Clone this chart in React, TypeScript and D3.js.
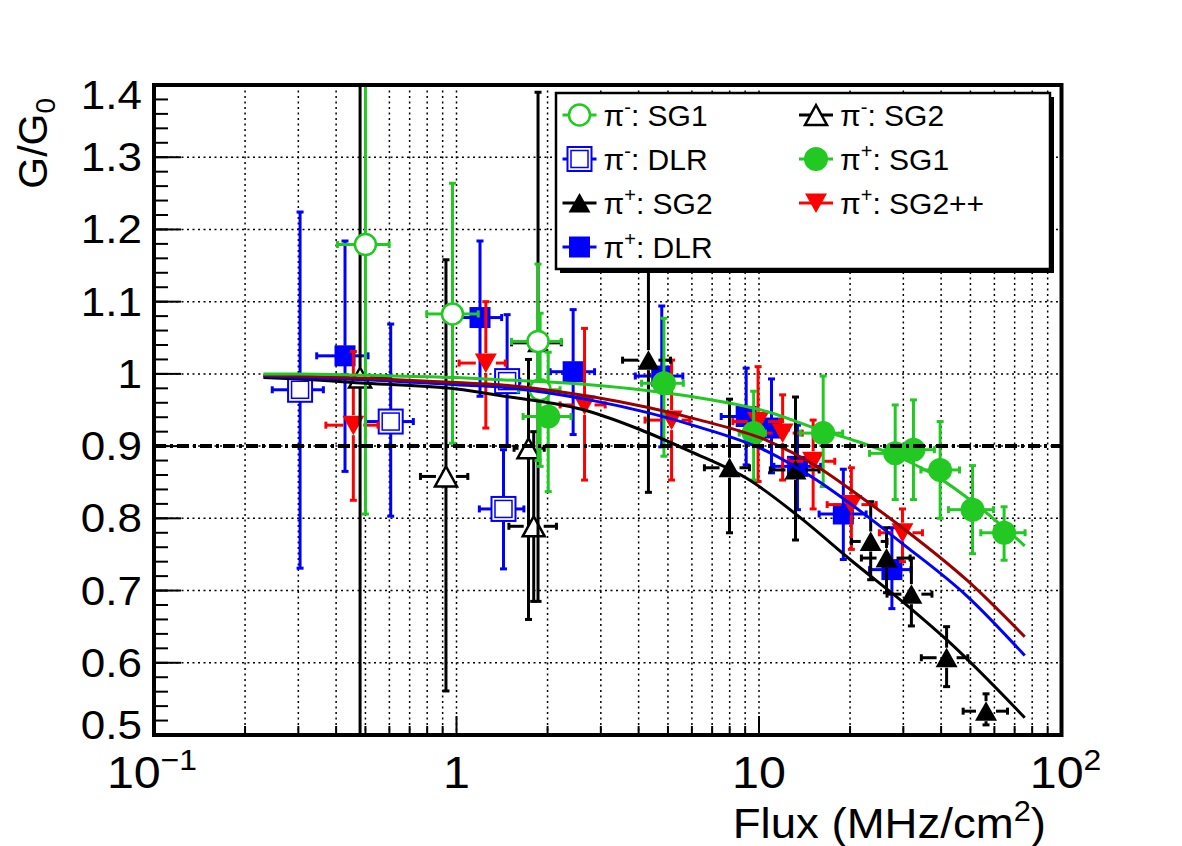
import React from "react";
import * as d3 from "d3";

// points: [flux, G/G0, fluxLow, fluxHigh, gLow, gHigh]
const piMinusSG1 = [
  [0.5, 1.179, 0.404, 0.599, 0.806, 1.5],
  [0.97, 1.083, 0.797, 1.18, 0.904, 1.264],
  [1.86, 1.045, 1.52, 2.22, 0.88, 1.152],
  [1.89, 0.978, 1.6, 2.2, 0.872, 1.084],
];
const piMinusDLR = [
  [0.304, 0.978, 0.246, 0.363, 0.731, 1.224],
  [0.606, 0.934, 0.5, 0.72, 0.803, 1.069],
  [1.43, 0.813, 1.19, 1.67, 0.73, 0.895],
  [1.47, 0.99, 1.36, 1.62, 0.9, 1.082],
];
const piPlusSG2 = [
  [1.86, 1.043, 1.52, 2.22, 0.685, 1.39],
  [4.31, 1.019, 3.54, 5.1, 0.836, 1.2],
  [7.99, 0.87, 6.6, 9.3, 0.78, 0.965],
  [13.2, 0.867, 10.9, 15.8, 0.77, 0.968],
  [23.4, 0.768, 20.2, 26.5, 0.715, 0.823],
  [26.4, 0.745, 21.8, 31.6, 0.697, 0.787],
  [31.9, 0.695, 26.5, 37.3, 0.651, 0.745],
  [41.7, 0.607, 34.4, 49.0, 0.567, 0.65],
  [56.3, 0.533, 47.3, 66.3, 0.514, 0.557],
];
const piMinusSG2 = [
  [0.48, 0.995, 0.4, 0.59, 0.3, 1.6],
  [0.923, 0.858, 0.76, 1.09, 0.561, 1.158],
  [1.73, 0.897, 1.55, 1.95, 0.66, 1.02],
  [1.8, 0.789, 1.49, 2.14, 0.685, 0.92],
];
const piPlusSG1 = [
  [2.01, 0.941, 1.66, 2.39, 0.837, 1.03],
  [4.85, 0.987, 4.09, 5.62, 0.886, 1.077],
  [9.6, 0.918, 8.6, 10.5, 0.853, 0.976],
  [16.3, 0.918, 13.7, 18.9, 0.844, 0.997],
  [28.2, 0.89, 23.2, 31.6, 0.826, 0.957],
  [32.4, 0.895, 27.0, 38.0, 0.826, 0.964],
  [39.7, 0.867, 34.3, 46.0, 0.8, 0.934],
  [50.8, 0.812, 42.3, 59.6, 0.751, 0.873],
  [64.6, 0.78, 54.1, 75.8, 0.742, 0.816],
];
const piPlusSG2pp = [
  [0.456, 0.929, 0.37, 0.55, 0.825, 1.031],
  [1.25, 1.015, 1.02, 1.45, 0.925, 1.1],
  [2.65, 0.957, 2.2, 3.1, 0.853, 1.063],
  [5.14, 0.936, 4.2, 5.9, 0.853, 1.019],
  [9.93, 0.934, 8.2, 11.7, 0.851, 1.01],
  [11.97, 0.918, 10.1, 13.9, 0.853, 0.971],
  [15.1, 0.879, 12.5, 17.8, 0.813, 0.936],
  [20.2, 0.819, 16.8, 24.4, 0.757, 0.87],
  [29.8, 0.78, 25.0, 34.7, 0.74, 0.813],
];
const piPlusDLR = [
  [0.428, 1.025, 0.345, 0.51, 0.865, 1.184],
  [1.196, 1.078, 0.98, 1.41, 0.969, 1.184],
  [2.43, 1.003, 2.04, 2.86, 0.916, 1.089],
  [4.77, 0.997, 3.9, 5.6, 0.899, 1.094],
  [9.07, 0.941, 7.5, 10.2, 0.874, 1.008],
  [11.0, 0.925, 9.3, 12.5, 0.863, 0.993],
  [13.4, 0.872, 11.2, 16.0, 0.812, 0.929],
  [19.0, 0.806, 15.8, 22.6, 0.743, 0.868],
  [27.5, 0.729, 23.2, 31.8, 0.675, 0.787],
];

// fit curves: [flux, G/G0]
const fitSG1 = [
  [0.23, 1.0], [0.3, 1.0], [0.5, 0.998], [1, 0.995], [1.4, 0.992], [2.75, 0.985],
  [5.9, 0.969], [10.6, 0.948], [16.3, 0.921], [21.3, 0.906], [28.2, 0.887],
  [39.7, 0.855], [50.8, 0.823], [75.6, 0.762],
];
const fitSG2pp = [
  [0.23, 0.998], [0.3, 0.997], [0.5, 0.994], [1, 0.988], [1.39, 0.985], [2.75, 0.969],
  [6.38, 0.936], [10.6, 0.908], [15.5, 0.872], [21.3, 0.832], [30, 0.786],
  [48.8, 0.714], [75.6, 0.636],
];
const fitDLR = [
  [0.23, 0.997], [0.3, 0.995], [0.5, 0.992], [1, 0.985], [1.39, 0.982], [2.75, 0.964],
  [6.38, 0.926], [10.6, 0.893], [15.5, 0.853], [21.3, 0.812], [30, 0.764],
  [48.8, 0.692], [75.6, 0.61],
];
const fitSG2 = [
  [0.23, 0.995], [0.3, 0.993], [0.5, 0.987], [1, 0.979], [1.39, 0.97], [2.75, 0.948],
  [4.04, 0.923], [5.9, 0.893], [9.3, 0.853], [13.5, 0.803], [20, 0.743],
  [32.4, 0.672], [41.7, 0.632], [75.6, 0.524],
];

const yTicks = [0.5, 0.6, 0.7, 0.8, 0.9, 1, 1.1, 1.2, 1.3, 1.4];
const yTickLabels = ["0.5", "0.6", "0.7", "0.8", "0.9", "1", "1.1", "1.2", "1.3", "1.4"];
const thresholdLine = 0.9;

const GREEN = "#22c922";
const BLUE = "#0000ff";
const RED = "#ff0000";
const DARKRED = "#990000";
const BLACK = "#000000";

const W = 1182;
const H = 846;
const L = 154, R = 1061.5, T = 85, B = 735;

const x = d3.scaleLog().domain([0.1, 100]).range([L, R]);
const y = d3.scaleLinear().domain([0.5, 1.4]).range([B, T]);

function Marker({ kind, cx, cy, color }) {
  if (kind === "openCircle")
    return <circle cx={cx} cy={cy} r={10.5} fill="white" stroke={color} strokeWidth={2.5} />;
  if (kind === "fullCircle")
    return <circle cx={cx} cy={cy} r={12} fill={color} />;
  if (kind === "fullSquare")
    return <rect x={cx - 10.5} y={cy - 10.5} width={21} height={21} fill={color} />;
  if (kind === "openSquare")
    return (
      <g fill="white" stroke={color}>
        <rect x={cx - 12} y={cy - 12} width={24} height={24} strokeWidth={2} />
        <rect x={cx - 8.5} y={cy - 8.5} width={17} height={17} strokeWidth={1.5} />
      </g>
    );
  if (kind === "fullTriUp")
    return <path d={`M${cx - 11},${cy + 9.5}L${cx + 11},${cy + 9.5}L${cx},${cy - 10}Z`} fill={color} />;
  if (kind === "openTriUp")
    return (
      <path d={`M${cx - 11},${cy + 10}L${cx + 11},${cy + 10}L${cx},${cy - 10}Z`}
        fill="white" stroke={color} strokeWidth={2.5} strokeLinejoin="miter" />
    );
  if (kind === "fullTriDown")
    return <path d={`M${cx - 11},${cy - 9.5}L${cx + 11},${cy - 9.5}L${cx},${cy + 10}Z`} fill={color} />;
  return null;
}

function ErrorGraph({ data, kind, color }) {
  const gap = 10;
  const cap = 3.5;
  return (
    <g stroke={color} strokeWidth={3} fill="none">
      {data.map((d, i) => {
        const cx = x(d[0]), cy = y(d[1]);
        const xl = x(d[2]), xh = x(d[3]);
        const yl = y(d[4]), yh = y(d[5]);
        return (
          <g key={i}>
            {xl < cx - gap && <line x1={xl} x2={cx - gap} y1={cy} y2={cy} />}
            {xh > cx + gap && <line x1={cx + gap} x2={xh} y1={cy} y2={cy} />}
            {yh < cy - gap && <line x1={cx} x2={cx} y1={cy - gap} y2={yh} />}
            {yl > cy + gap && <line x1={cx} x2={cx} y1={cy + gap} y2={yl} />}
            <line x1={xl} x2={xl} y1={cy - cap} y2={cy + cap} />
            <line x1={xh} x2={xh} y1={cy - cap} y2={cy + cap} />
            <line x1={cx - cap} x2={cx + cap} y1={yl} y2={yl} />
            <line x1={cx - cap} x2={cx + cap} y1={yh} y2={yh} />
          </g>
        );
      })}
      <g stroke="none">
        {data.map((d, i) => (
          <Marker key={i} kind={kind} cx={x(d[0])} cy={y(d[1])} color={color} />
        ))}
      </g>
    </g>
  );
}

const curve = d3
  .line()
  .x((d) => x(d[0]))
  .y((d) => y(d[1]))
  .curve(d3.curveMonotoneX);

const series = [
  { data: piMinusDLR, kind: "openSquare", color: BLUE },
  { data: piPlusDLR, kind: "fullSquare", color: BLUE },
  { data: piPlusSG2pp, kind: "fullTriDown", color: RED },
  { data: piMinusSG2, kind: "openTriUp", color: BLACK },
  { data: piPlusSG2, kind: "fullTriUp", color: BLACK },
  { data: piPlusSG1, kind: "fullCircle", color: GREEN },
  { data: piMinusSG1, kind: "openCircle", color: GREEN },
];

const fits = [
  { data: fitSG2, color: BLACK },
  { data: fitDLR, color: BLUE },
  { data: fitSG2pp, color: DARKRED },
  { data: fitSG1, color: GREEN },
];

const legendRows = [
  [{ sign: "-", name: "SG1", kind: "openCircle", color: GREEN }, { sign: "-", name: "SG2", kind: "openTriUp", color: BLACK }],
  [{ sign: "-", name: "DLR", kind: "openSquare", color: BLUE }, { sign: "+", name: "SG1", kind: "fullCircle", color: GREEN }],
  [{ sign: "+", name: "SG2", kind: "fullTriUp", color: BLACK }, { sign: "+", name: "SG2++", kind: "fullTriDown", color: RED }],
  [{ sign: "+", name: "DLR", kind: "fullSquare", color: BLUE }],
];

// text stretched a little sideways, like the original's font
function Stretch({ tx, ty, sx = 1.08, children, ...rest }) {
  return (
    <text transform={`translate(${tx},${ty}) scale(${sx},1)`} {...rest}>
      {children}
    </text>
  );
}

export default function App() {
  const minorX = [];
  for (const dec of [0.1, 1, 10]) for (let k = 2; k <= 9; k++) minorX.push(dec * k);
  const gridX = [...minorX, 1, 10].sort((a, b) => a - b);
  const minorY = d3.range(0.5, 1.4001, 0.02);
  const font = "'Liberation Sans', Arial, Helvetica, sans-serif";

  const legendCols = [579.5, 816];
  const legendRowY = [115, 159, 203, 247];

  // end labels sit inside the frame
  const labelShift = (i) => (i === 0 ? -10 : i === yTicks.length - 1 ? 10 : 0);

  return (
    <svg width={W} height={H} style={{ position: "absolute", left: 0, top: 0, background: "white" }} fontFamily={font}>
      <defs>
        <clipPath id="frame">
          <rect x={L} y={T} width={R - L} height={B - T} />
        </clipPath>
      </defs>
      <rect x={0} y={0} width={W} height={H} fill="white" />

      {/* grid */}
      <g stroke="black" strokeWidth={1.5} strokeDasharray="2 3.5">
        {gridX.map((v, i) => (
          <line key={"gx" + i} x1={x(v)} x2={x(v)} y1={T} y2={B} />
        ))}
        {yTicks.slice(1, -1).map((v, i) => (
          <line key={"gy" + i} x1={L} x2={R} y1={y(v)} y2={y(v)} />
        ))}
      </g>

      <g clipPath="url(#frame)">
        {series.map((s, i) => (
          <ErrorGraph key={i} data={s.data} kind={s.kind} color={s.color} />
        ))}
        {fits.map((f, i) => (
          <path key={i} d={curve(f.data)} fill="none" stroke={f.color} strokeWidth={3} />
        ))}
        <line x1={L} x2={R} y1={y(thresholdLine)} y2={y(thresholdLine)} stroke="black"
          strokeWidth={4} strokeDasharray="12 4 3 4" />
      </g>

      {/* ticks */}
      <g stroke="black" strokeWidth={2}>
        {yTicks.map((v, i) => (
          <line key={"ty" + i} x1={L} x2={L + 27} y1={y(v)} y2={y(v)} />
        ))}
        {minorY.map((v, i) => (
          <line key={"tmy" + i} x1={L} x2={L + 14} y1={y(v)} y2={y(v)} />
        ))}
        {[1, 10].map((v, i) => (
          <line key={"tx" + i} x1={x(v)} x2={x(v)} y1={B} y2={B - 19} />
        ))}
        {minorX.map((v, i) => (
          <line key={"tmx" + i} x1={x(v)} x2={x(v)} y1={B} y2={B - 9} />
        ))}
      </g>

      {/* frame */}
      <rect x={L} y={T} width={R - L} height={B - T} fill="none" stroke="black" strokeWidth={4} />

      {/* y tick labels */}
      <g fontSize={40} textAnchor="end">
        {yTicks.map((v, i) => (
          <Stretch key={i} tx={142} ty={y(v) + 14 + labelShift(i)} sx={1.1}>{yTickLabels[i]}</Stretch>
        ))}
      </g>

      {/* x tick labels */}
      <g fontSize={44} textAnchor="middle">
        <Stretch tx={x(0.1) - 2} ty={788} sx={1.1}>10<tspan fontSize={29} dy={-18}>−1</tspan></Stretch>
        <Stretch tx={x(1)} ty={788} sx={1.1}>1</Stretch>
        <Stretch tx={x(10)} ty={788} sx={1.1}>10</Stretch>
        <Stretch tx={x(100) + 4} ty={788} sx={1.1}>10<tspan fontSize={29} dy={-18}>2</tspan></Stretch>
      </g>

      {/* axis titles */}
      <Stretch tx={1046} ty={838} sx={1.06} fontSize={43} textAnchor="end">
        Flux (MHz/cm<tspan fontSize={29} dy={-17}>2</tspan><tspan dy={17}>)</tspan>
      </Stretch>
      <text transform="translate(47,98) rotate(-90)" fontSize={41} textAnchor="end">
        G/G<tspan fontSize={28} dy={8}>0</tspan>
      </text>

      {/* legend */}
      <rect x={560} y={97} width={494} height={176} fill="black" />
      <rect x={556} y={93} width={494} height={176} fill="white" stroke="black" strokeWidth={2.5} />
      {legendRows.map((row, ri) =>
        row.map((e, ci) => {
          const cx = legendCols[ci];
          const cy = legendRowY[ri];
          return (
            <g key={ri + "-" + ci}>
              <line x1={cx - 17} x2={cx + 17} y1={cy} y2={cy} stroke={e.color} strokeWidth={3} />
              <Marker kind={e.kind} cx={cx} cy={cy} color={e.color} />
              <Stretch tx={cx + 24} ty={cy + 11} sx={1.0} fontSize={30}>
                π<tspan fontSize={20} dy={-12}>{e.sign === "-" ? "-" : "+"}</tspan>
                <tspan dy={12}>: {e.name}</tspan>
              </Stretch>
            </g>
          );
        })
      )}
    </svg>
  );
}
